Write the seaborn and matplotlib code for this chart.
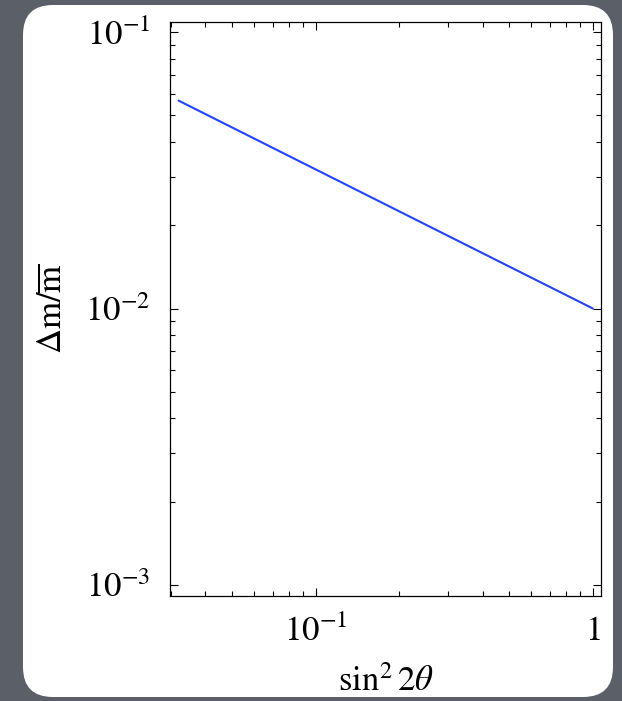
import matplotlib
matplotlib.use("Agg")
import matplotlib.pyplot as plt
import seaborn as sns
from matplotlib.patches import FancyBboxPatch
from matplotlib.transforms import IdentityTransform

# curve (log-log straight line)
sin2_2theta = [0.032, 1.0]
dm_over_m = [0.0566, 0.01]

xticks = [0.1, 1.0]
xticklabels = [r'$10^{-1}$', r'$1$']
yticks = [0.001, 0.01, 0.1]
yticklabels = [r'$10^{-3}$', r'$10^{-2}$', r'$10^{-1}$']

sns.set_style("ticks")
plt.rcParams['mathtext.fontset'] = 'stix'
plt.rcParams['font.family'] = ['Liberation Serif', 'DejaVu Serif']
plt.rcParams['text.color'] = 'black'
plt.rcParams['xtick.labelcolor'] = 'black'
plt.rcParams['ytick.labelcolor'] = 'black'
plt.rcParams['axes.labelcolor'] = 'black'

fig = plt.figure(figsize=(6.22, 7.01), dpi=100)
fig.patch.set_facecolor('#5b6068')

# white rounded panel behind the plot (pixel coords)
panel = FancyBboxPatch((23, 4), 590, 692, boxstyle="round,pad=0,rounding_size=30",
                       transform=IdentityTransform(), facecolor='white',
                       edgecolor='none', zorder=-10)
fig.patches.append(panel)

ax = fig.add_axes([170/622, 1 - 596/701, (601 - 170)/622, (596 - 22)/701])
ax.set_facecolor('white')

sns.lineplot(x=sin2_2theta, y=dm_over_m, ax=ax, color='#2244ff', linewidth=1.5)

ax.set_xscale('log')
ax.set_yscale('log')
ax.set_xlim(0.0298, 1.07)
ax.set_ylim(0.00091, 0.109)

ax.set_xticks(xticks)
ax.set_xticklabels(xticklabels)
ax.set_yticks(yticks)
ax.set_yticklabels(yticklabels)

ax.tick_params(which='both', direction='in', top=True, right=True, width=0.8,
               color='black', labelcolor='black', labelsize=25, pad=14)
ax.tick_params(which='major', length=6)
ax.tick_params(which='minor', length=3.5)
for s in ax.spines.values():
    s.set_linewidth(0.9)
    s.set_color('black')

ax.set_xlabel(r'$\sin^2 2\theta$', fontsize=25, labelpad=12, color='black')
ax.set_ylabel(r'$\Delta\mathrm{m}/\overline{\mathrm{m}}$', fontsize=25, labelpad=11,
              color='black')

fig.savefig('out.png', dpi=100, facecolor=fig.get_facecolor())
